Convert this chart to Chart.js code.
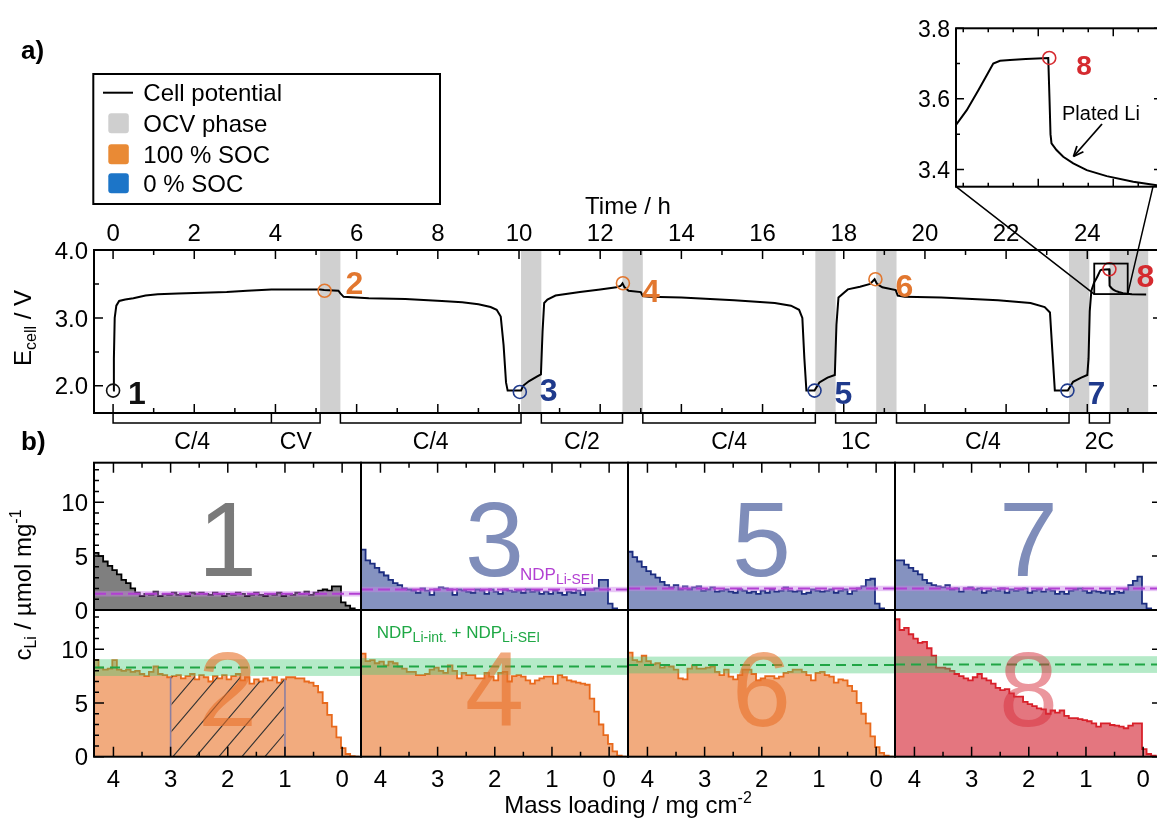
<!DOCTYPE html>
<html>
<head>
<meta charset="utf-8">
<script src="https://cdn.jsdelivr.net/npm/chart.js@4.4.1/dist/chart.umd.min.js"></script>
<style>
  html, body { margin: 0; padding: 0; background: #fff; overflow: hidden; width: 1157px; height: 819px; }
  canvas { position: absolute; left: 0; top: 0; }
</style>
</head>
<body>
<script>
// ---------- Cell potential during the cycling protocol ----------
const timeH = [0.00, 0.02, 0.04, 0.08, 0.15, 0.30, 0.50, 0.80, 1.10, 1.60, 2.20, 2.80, 3.30, 3.90, 4.50, 5.10, 5.20, 5.55, 5.60, 5.68,
  6.30, 7.20, 8.10, 8.60, 9.00, 9.30, 9.45, 9.55, 9.62, 9.68, 9.72, 10.05, 10.10, 10.25, 10.45, 10.54, 10.58, 10.62, 10.70, 10.90,
  11.50, 12.00, 12.40, 12.50, 12.55, 12.60, 12.70, 13.00, 13.05, 13.20, 14.00, 15.30, 16.30, 16.70, 16.90, 16.98, 17.03, 17.08, 17.28, 17.40,
  17.60, 17.78, 17.82, 17.87, 18.10, 18.40, 18.65, 18.76, 18.82, 18.95, 19.28, 19.33, 19.50, 20.40, 21.80, 22.60, 22.95, 23.08, 23.14, 23.20,
  23.52, 23.65, 23.85, 24.00, 24.03, 24.06, 24.10, 24.171, 24.214, 24.261, 24.294, 24.320, 24.347, 24.387, 24.450, 24.540, 24.545, 24.549, 24.553, 24.573,
  24.600, 24.640, 24.694, 24.774, 24.880, 24.974, 25.10, 25.45];
const ecellV = [1.93, 2.40, 3.00, 3.18, 3.25, 3.27, 3.29, 3.33, 3.35, 3.36, 3.37, 3.38, 3.40, 3.42, 3.42, 3.42, 3.41, 3.40, 3.36, 3.31,
  3.29, 3.28, 3.25, 3.23, 3.20, 3.16, 3.12, 3.02, 2.60, 2.05, 1.93, 1.93, 2.00, 2.07, 2.14, 2.17, 2.80, 3.22, 3.27, 3.33,
  3.38, 3.42, 3.45, 3.47, 3.51, 3.45, 3.40, 3.38, 3.32, 3.31, 3.30, 3.26, 3.22, 3.18, 3.12, 3.00, 2.40, 1.93, 1.93, 2.05,
  2.12, 2.16, 2.90, 3.30, 3.42, 3.46, 3.50, 3.57, 3.50, 3.45, 3.41, 3.33, 3.31, 3.30, 3.26, 3.22, 3.16, 3.08, 2.50, 1.93,
  1.93, 2.06, 2.12, 2.16, 2.40, 3.10, 3.40, 3.526, 3.568, 3.625, 3.667, 3.700, 3.708, 3.710, 3.713, 3.716, 3.600, 3.500, 3.474, 3.455,
  3.436, 3.417, 3.398, 3.381, 3.365, 3.355, 3.350, 3.346];

// OCV rest phases [start, end] in h
const ocvStart = [5.10, 10.05, 12.55, 17.30, 18.80, 23.55, 24.55];
const ocvEnd   = [5.60, 10.55, 13.05, 17.80, 19.30, 24.05, 25.50];

// sampling points 1..8
const sampleIds   = ['1', '2', '3', '4', '5', '6', '7', '8'];
const sampleTimeH = [0.00, 5.21, 10.02, 12.56, 17.28, 18.78, 23.51, 24.544];
const sampleV     = [1.93, 3.40, 1.91, 3.51, 1.93, 3.57, 1.93, 3.716];

// protocol steps shown under the time axis
const stepLabels = ['C/4', 'CV', 'C/4', 'C/2', 'C/4', '1C', 'C/4', '2C'];
const stepStart  = [0.00, 3.90, 5.60, 10.55, 13.05, 17.80, 19.30, 24.05];
const stepEnd    = [3.90, 5.10, 10.05, 12.55, 17.30, 18.80, 23.55, 24.55];

// axis ticks
const timeMajor = [0, 2, 4, 6, 8, 10, 12, 14, 16, 18, 20, 22, 24];
const timeMinor = [1, 3, 5, 7, 9, 11, 13, 15, 17, 19, 21, 23, 25];
const voltMajor = [2.0, 3.0, 4.0];
const voltMinor = [2.5, 3.5];
const insetTimeMajor = [24.5, 24.8];
const insetTimeMinor = [24.2, 24.3, 24.4, 24.6, 24.7, 24.9];
const insetVMajor = [3.4, 3.6, 3.8];
const insetVMinor = [3.5, 3.7];
const loadTicks = [4, 3, 2, 1, 0];
const loadMinor = [3.5, 2.5, 1.5, 0.5];
const cMajor = [0, 5, 10];
const cMinor = [1, 2, 3, 4, 6, 7, 8, 9, 11, 12, 13];

// ---------- Li depth profiles (NDP), bins along mass loading ----------
const binStart = 4.34;   // mg cm-2, first bin edge
const binWidth = 0.08;   // mg cm-2
const hist1 = [5.3, 5.0, 4.5, 4.1, 3.7, 3.3, 2.8, 2.5, 2.0, 1.6,
  1.3, 1.5, 1.4, 1.7, 1.3, 1.5, 1.4, 1.6, 1.4, 1.5,
  1.3, 1.6, 1.5, 1.6, 1.5, 1.4, 1.6, 1.5, 1.3, 1.5,
  1.4, 1.6, 1.5, 1.3, 1.4, 1.6, 1.4, 1.3, 1.5, 1.4,
  1.6, 1.3, 1.5, 1.4, 1.6, 1.5, 1.7, 1.4, 1.6, 1.8,
  1.9, 1.8, 2.2, 2.2, 0.7, 0.4, 0.15, 0];
const hist2 = [9.0, 8.3, 8.1, 8.2, 9.0, 8.1, 8.0, 8.1, 7.9, 8.0,
  7.7, 7.5, 7.9, 8.4, 7.7, 7.6, 7.4, 7.5, 7.6, 7.3,
  7.5, 7.7, 7.2, 7.6, 7.4, 7.0, 7.5, 7.3, 7.6, 7.2,
  7.5, 7.7, 7.1, 7.4, 6.8, 7.2, 7.0, 7.3, 7.1, 7.4,
  6.9, 7.2, 7.4, 7.4, 7.3, 7.3, 7.0, 6.9, 6.6, 6.0,
  5.0, 3.9, 2.8, 1.8, 0.8, 0.25, 0.05, 0];
const hist3 = [5.6, 4.6, 4.3, 3.9, 3.5, 3.2, 2.8, 2.5, 2.3, 2.0,
  1.9, 1.8, 1.6, 2.0, 1.8, 1.4, 1.9, 2.1, 2.0, 1.9,
  1.4, 1.9, 1.8, 1.7, 1.6, 1.9, 1.8, 1.5, 1.9, 1.7,
  1.5, 1.9, 1.8, 1.7, 1.8, 1.6, 1.9, 1.7, 1.8, 1.5,
  1.7, 1.5, 1.8, 1.6, 1.4, 1.7, 1.6, 1.8, 1.4, 1.9,
  1.9, 2.0, 2.8, 2.8, 0.6, 0.15, 0, 0];
const hist4 = [9.6, 8.9, 9.0, 8.7, 8.85, 8.5, 8.85, 8.7, 8.4, 8.2,
  7.9, 7.9, 7.6, 7.6, 7.7, 8.1, 8.3, 8.0, 7.8, 8.5,
  8.0, 7.3, 7.8, 7.6, 7.6, 7.3, 7.3, 7.8, 7.45, 7.1,
  7.8, 7.9, 7.0, 7.5, 7.6, 7.45, 7.1, 6.8, 7.1, 7.3,
  7.45, 7.45, 6.8, 7.6, 7.4, 7.1, 7.0, 6.9, 6.8, 6.7,
  5.4, 4.2, 3.0, 2.0, 1.2, 0.5, 0.1, 0];
const hist5 = [5.4, 4.9, 4.5, 4.0, 3.6, 3.3, 3.0, 2.6, 2.3, 2.1,
  2.3, 1.9, 2.2, 1.9, 2.1, 2.2, 1.8, 1.9, 2.1, 1.7,
  1.8, 1.9, 1.7, 1.6, 1.9, 1.8, 1.6, 1.7, 1.5, 1.8,
  1.6, 1.9, 1.7, 1.8, 2.1, 1.8, 1.7, 1.8, 1.5, 1.6,
  1.9, 1.8, 1.7, 1.8, 1.9, 1.6, 1.8, 1.9, 1.5, 1.8,
  2.0, 2.2, 2.8, 2.9, 0.6, 0.15, 0, 0];
const hist6 = [9.7, 9.0, 8.85, 9.4, 8.9, 8.6, 8.7, 8.3, 8.5, 8.4,
  8.1, 7.3, 7.2, 8.2, 8.5, 8.2, 8.2, 8.3, 8.4, 7.9,
  7.6, 8.1, 7.45, 7.2, 7.6, 8.1, 8.1, 7.7, 7.1, 7.3,
  7.5, 7.5, 7.3, 7.45, 7.8, 7.9, 8.1, 8.1, 7.9, 7.6,
  7.1, 7.8, 7.9, 7.6, 7.45, 6.9, 7.2, 7.1, 6.6, 6.1,
  5.0, 4.0, 3.1, 1.9, 0.9, 0.35, 0.1, 0];
const hist7 = [4.6, 4.6, 4.2, 3.9, 3.6, 3.3, 2.8, 2.5, 2.3, 2.2,
  2.1, 2.3, 1.9, 2.0, 1.7, 2.0, 2.1, 1.9, 2.0, 1.6,
  1.8, 1.9, 1.8, 2.0, 1.6, 1.9, 1.8, 1.9, 2.0, 1.6,
  1.8, 1.9, 1.7, 1.9, 1.8, 1.5, 1.7, 1.5, 1.8, 1.9,
  2.0, 1.8, 1.6, 1.8, 1.7, 1.6, 1.8, 1.5, 1.7, 1.6,
  1.9, 2.3, 2.7, 3.1, 0.6, 0.15, 0, 0];
const hist8 = [12.8, 11.8, 12.0, 11.4, 11.0, 10.6, 10.7, 10.1, 9.4, 8.3,
  8.3, 8.2, 8.0, 7.7, 7.5, 7.3, 7.1, 7.4, 7.7, 7.3,
  7.1, 6.8, 6.4, 6.2, 6.3, 5.9, 5.6, 5.6, 5.1, 4.9,
  4.7, 4.5, 4.4, 4.0, 4.3, 4.1, 4.3, 3.8, 3.6, 3.6,
  3.5, 3.4, 3.3, 3.1, 2.8, 3.1, 3.1, 2.95, 2.9, 2.8,
  2.65, 2.9, 3.1, 3.1, 0.7, 0.25, 0.1, 0];

// reference levels: Li in SEI (0 % SOC panels) and Li intercalated + SEI (100 % SOC panels)
const ndpSei = [1.5, 1.9, 2.0, 2.0];
const ndpSeiSpread = 0.25;
const ndpTotal = [8.3, 8.4, 8.54, 8.58];
const ndpTotalSpread = 0.78;
// region marked with hatching in profile 2
const hatchFrom = 3.0, hatchTo = 1.0;

// ---------- drawing ----------
const FONT = "'Liberation Sans', Arial, Helvetica, sans-serif";
const f = (size, weight) => (weight ? weight + ' ' : '') + size + 'px ' + FONT;
const CW = 1170, CH = 819;

function makeCanvas() {
  const c = document.createElement('canvas');
  c.width = CW; c.height = CH;
  c.style.width = CW + 'px'; c.style.height = CH + 'px';
  document.body.appendChild(c);
  return c;
}

function baseOptions(box, xs, ys) {
  return {
    responsive: false, devicePixelRatio: 1, animation: false, events: [],
    layout: { autoPadding: false, padding: { left: box.l, top: box.t, right: CW - box.r, bottom: CH - box.b } },
    scales: {
      x: Object.assign({ type: 'linear', display: false }, xs),
      y: Object.assign({ type: 'linear', display: false }, ys)
    },
    plugins: { legend: { display: false }, tooltip: { enabled: false }, title: { display: false } }
  };
}

function rich(ctx, x, y, parts, align, color) {
  let w = 0;
  for (const p of parts) { ctx.font = p.f; w += ctx.measureText(p.t).width; }
  let cx = align === 'center' ? x - w / 2 : (align === 'right' ? x - w : x);
  ctx.textAlign = 'left'; ctx.textBaseline = 'alphabetic'; ctx.fillStyle = color || '#000';
  for (const p of parts) { ctx.font = p.f; ctx.fillText(p.t, cx, y + (p.dy || 0)); cx += ctx.measureText(p.t).width; }
}

function ticksH(ctx, scale, values, yEdge, len, dir) {
  for (const v of values) {
    const px = scale.getPixelForValue(v);
    ctx.moveTo(px, yEdge); ctx.lineTo(px, yEdge + dir * len);
  }
}
function ticksV(ctx, scale, values, xEdge, len, dir) {
  for (const v of values) {
    const py = scale.getPixelForValue(v);
    ctx.moveTo(xEdge, py); ctx.lineTo(xEdge + dir * len, py);
  }
}

const sampleColors = ['#111111', '#e2772f', '#1f3a8c', '#e2772f', '#1f3a8c', '#e2772f', '#1f3a8c', '#d52a2f'];
const sampleLabelOffset = [[15, 2], [21, -8], [20, -2], [19, 7], [20, 2], [20, 6], [20, 2], [27, 6]];

const boxA = { l: 94, r: 1162, t: 250, b: 413 };
const boxInset = { l: 956, r: 1162, t: 28.3, b: 186.7 };
const insetX = { min: 24.171, max: 24.995 };
const insetY = { min: 3.351, max: 3.8 };

const curvePoints = timeH.map((t, i) => ({ x: t, y: ecellV[i] }));

const panelAPlugin = {
  id: 'panelA',
  beforeDatasetsDraw(chart) {
    const { ctx, chartArea: a, scales: { x } } = chart;
    ctx.save();
    ctx.fillStyle = '#d0d0d0';
    ocvStart.forEach((s, i) => {
      const x0 = x.getPixelForValue(s), x1 = x.getPixelForValue(ocvEnd[i]);
      ctx.fillRect(x0, a.top, x1 - x0, a.bottom - a.top);
    });
    ctx.restore();
  },
  afterDatasetsDraw(chart) {
    const { ctx, scales: { x, y } } = chart;
    ctx.save();
    ctx.font = f(32, 'bold');
    ctx.textAlign = 'left'; ctx.textBaseline = 'alphabetic';
    sampleIds.forEach((id, i) => {
      const px = x.getPixelForValue(sampleTimeH[i]), py = y.getPixelForValue(sampleV[i]);
      ctx.fillStyle = sampleColors[i];
      ctx.fillText(id, px + sampleLabelOffset[i][0], py + sampleLabelOffset[i][1] + 11.5);
    });
    ctx.restore();
  },
  afterDraw(chart) {
    const { ctx, chartArea: a, scales: { x, y } } = chart;
    ctx.save();
    // zoom box and connectors to the inset
    const bx0 = x.getPixelForValue(insetX.min), bx1 = x.getPixelForValue(insetX.max);
    const by0 = y.getPixelForValue(insetY.max), by1 = y.getPixelForValue(insetY.min);
    ctx.strokeStyle = '#000'; ctx.lineWidth = 1.8;
    ctx.strokeRect(bx0, by0, bx1 - bx0, by1 - by0);
    ctx.lineWidth = 1.5;
    ctx.beginPath();
    ctx.moveTo(boxInset.l, boxInset.b); ctx.lineTo(bx0, by1);
    ctx.moveTo(boxInset.r - 9, boxInset.b); ctx.lineTo(bx1, by1);
    ctx.stroke();

    // frame
    ctx.lineWidth = 2;
    ctx.strokeRect(a.left, a.top, a.right - a.left, a.bottom - a.top);
    // ticks
    ctx.lineWidth = 1.5;
    ctx.beginPath();
    ticksH(ctx, x, timeMajor, a.top, 9, 1); ticksH(ctx, x, timeMinor, a.top, 5, 1);
    ticksH(ctx, x, timeMajor, a.bottom, 9, -1); ticksH(ctx, x, timeMinor, a.bottom, 5, -1);
    ticksV(ctx, y, voltMajor, a.left, 9, 1); ticksV(ctx, y, voltMinor, a.left, 5, 1);
    ticksV(ctx, y, voltMajor, a.right, 9, -1); ticksV(ctx, y, voltMinor, a.right, 5, -1);
    ctx.stroke();

    // tick labels
    ctx.fillStyle = '#000';
    ctx.font = f(24); ctx.textBaseline = 'alphabetic';
    ctx.textAlign = 'center';
    timeMajor.forEach(t => ctx.fillText(String(t), x.getPixelForValue(t), 240.6));
    ctx.textAlign = 'right';
    voltMajor.forEach(v => ctx.fillText(v.toFixed(1), 88, y.getPixelForValue(v) + 8.6));
    rich(ctx, 628, 213.5, [{ t: 'Time / h', f: f(24) }], 'center');
    // y title
    ctx.save();
    ctx.translate(31, 328); ctx.rotate(-Math.PI / 2);
    rich(ctx, 0, 0, [{ t: 'E', f: f(24) }, { t: 'cell', f: f(16), dy: 5 }, { t: ' / V', f: f(24) }], 'center');
    ctx.restore();

    // protocol brackets
    ctx.lineWidth = 1.5; ctx.strokeStyle = '#000';
    ctx.beginPath();
    stepStart.forEach((s, i) => {
      const x0 = x.getPixelForValue(s), x1 = x.getPixelForValue(stepEnd[i]);
      ctx.moveTo(x0, 414); ctx.lineTo(x0, 423); ctx.lineTo(x1, 423); ctx.lineTo(x1, 414);
    });
    ctx.stroke();
    ctx.font = f(23); ctx.textAlign = 'center'; ctx.fillStyle = '#000';
    stepLabels.forEach((lab, i) => {
      const xc = x.getPixelForValue((stepStart[i] + stepEnd[i]) / 2);
      ctx.fillText(lab, xc, 448.5);
    });

    // panel letters
    ctx.font = f(26, 'bold'); ctx.textAlign = 'left';
    ctx.fillText('a)', 21, 59);
    ctx.fillText('b)', 21, 450);

    // legend
    ctx.lineWidth = 2;
    ctx.strokeRect(93.3, 74, 346.7, 130);
    ctx.beginPath(); ctx.moveTo(103, 92.7); ctx.lineTo(133, 92.7); ctx.stroke();
    const sw = [['#cfcfcf', 123.3], ['#e98a35', 154.3], ['#1c75c8', 183.3]];
    sw.forEach(([c, yc]) => {
      ctx.fillStyle = c;
      ctx.beginPath();
      if (ctx.roundRect) ctx.roundRect(108.3, yc - 10, 20.5, 20, 3); else ctx.rect(108.3, yc - 10, 20.5, 20);
      ctx.fill();
    });
    ctx.fillStyle = '#000'; ctx.font = f(24); ctx.textAlign = 'left';
    [['Cell potential', 92.7], ['OCV phase', 123.3], ['100 % SOC', 154.3], ['0 % SOC', 183.3]].forEach(([t, yc]) => {
      ctx.fillText(t, 143.3, yc + 8.6);
    });
    ctx.restore();
  }
};

new Chart(makeCanvas(), {
  type: 'line',
  data: {
    datasets: [
      { data: sampleTimeH.map((t, i) => ({ x: t, y: sampleV[i] })), showLine: false, pointRadius: 6.5, pointBorderWidth: 1.6,
        pointBorderColor: sampleColors, pointBackgroundColor: 'rgba(0,0,0,0)', clip: false },
      { data: curvePoints, borderColor: '#000', borderWidth: 2, pointRadius: 0, tension: 0, fill: false }
    ]
  },
  options: baseOptions(boxA, { min: -0.47, max: 25.84 }, { min: 1.6, max: 4.0 }),
  plugins: [panelAPlugin]
});

// ---------- inset ----------
const insetPlugin = {
  id: 'inset',
  afterDraw(chart) {
    const { ctx, chartArea: a, scales: { x, y } } = chart;
    ctx.save();
    ctx.strokeStyle = '#000'; ctx.lineWidth = 2;
    ctx.strokeRect(a.left, a.top, a.right - a.left, a.bottom - a.top);
    ctx.lineWidth = 1.5;
    ctx.beginPath();
    ticksH(ctx, x, insetTimeMajor, a.top, 8, 1); ticksH(ctx, x, insetTimeMinor, a.top, 4, 1);
    ticksH(ctx, x, insetTimeMajor, a.bottom, 8, -1); ticksH(ctx, x, insetTimeMinor, a.bottom, 4, -1);
    ticksV(ctx, y, insetVMajor, a.left, 8, 1); ticksV(ctx, y, insetVMinor, a.left, 4, 1);
    ticksV(ctx, y, insetVMajor, a.right, 8, -1); ticksV(ctx, y, insetVMinor, a.right, 4, -1);
    ctx.stroke();
    ctx.fillStyle = '#000'; ctx.font = f(23); ctx.textAlign = 'right';
    insetVMajor.forEach(v => ctx.fillText(v.toFixed(1), 950, y.getPixelForValue(v) + 8.3));
    // sample 8 label
    const px = x.getPixelForValue(sampleTimeH[7]), py = y.getPixelForValue(sampleV[7]);
    ctx.font = f(28, 'bold'); ctx.textAlign = 'left'; ctx.fillStyle = sampleColors[7];
    ctx.fillText('8', px + 27, py + 7 + 10);
    // plated Li annotation
    ctx.fillStyle = '#000'; ctx.font = f(20);
    ctx.fillText('Plated Li', 1062, 120);
    const ax0 = 1102, ay0 = 124, ax1 = 1073.5, ay1 = 156.5;
    ctx.lineWidth = 1.8;
    ctx.beginPath(); ctx.moveTo(ax0, ay0); ctx.lineTo(ax1, ay1); ctx.stroke();
    const ang = Math.atan2(ay1 - ay0, ax1 - ax0);
    ctx.beginPath();
    ctx.moveTo(ax1, ay1);
    ctx.lineTo(ax1 - 11 * Math.cos(ang - 0.4), ay1 - 11 * Math.sin(ang - 0.4));
    ctx.moveTo(ax1, ay1);
    ctx.lineTo(ax1 - 11 * Math.cos(ang + 0.4), ay1 - 11 * Math.sin(ang + 0.4));
    ctx.stroke();
    ctx.restore();
  }
};

new Chart(makeCanvas(), {
  type: 'line',
  data: {
    datasets: [
      { data: [{ x: sampleTimeH[7], y: sampleV[7] }], showLine: false, pointRadius: 6.5, pointBorderWidth: 1.6,
        pointBorderColor: sampleColors[7], pointBackgroundColor: 'rgba(0,0,0,0)', clip: false },
      { data: curvePoints, borderColor: '#000', borderWidth: 2, pointRadius: 0, tension: 0, fill: false }
    ]
  },
  options: baseOptions(boxInset, insetX, insetY),
  plugins: [insetPlugin]
});

// ---------- depth profiles ----------
const colEdges = [94, 361, 628, 895, 1162];
const rowEdges = [462.7, 610, 756.7];
const loadRange = { min: -0.33, max: 4.34, reverse: true };
const cRange = { min: 0, max: 13.66 };

function histPoints(values) {
  const pts = values.map((v, i) => ({ x: binStart - binWidth * i, y: v }));
  pts.push({ x: binStart - binWidth * values.length, y: values[values.length - 1] });
  return pts;
}

function drawHatch(chart, values) {
  const { ctx, chartArea: a, scales: { x, y } } = chart;
  const y0 = y.getPixelForValue(0);
  const x0 = x.getPixelForValue(hatchFrom), x1 = x.getPixelForValue(hatchTo);
  ctx.save();
  // region below the profile
  ctx.beginPath();
  ctx.moveTo(x.getPixelForValue(binStart), y0);
  values.forEach((v, i) => {
    ctx.lineTo(x.getPixelForValue(binStart - binWidth * i), y.getPixelForValue(v));
    ctx.lineTo(x.getPixelForValue(binStart - binWidth * (i + 1)), y.getPixelForValue(v));
  });
  ctx.lineTo(x.getPixelForValue(binStart - binWidth * values.length), y0);
  ctx.closePath();
  ctx.clip();
  ctx.strokeStyle = '#8c7fa0'; ctx.lineWidth = 1.6;
  ctx.beginPath();
  ctx.moveTo(x0, y0); ctx.lineTo(x0, a.top);
  ctx.moveTo(x1, y0); ctx.lineTo(x1, a.top);
  ctx.stroke();
  ctx.beginPath(); ctx.rect(x0 + 1, a.top, x1 - x0 - 2, y0 - a.top); ctx.clip();
  ctx.strokeStyle = '#333'; ctx.lineWidth = 1.1;
  ctx.beginPath();
  const hgt = y0 - a.top, run = hgt * 0.85;
  for (let bx = x0 - run; bx < x1 + 5; bx += 23) {
    ctx.moveTo(bx + 12, y0); ctx.lineTo(bx + 12 + run, a.top);
  }
  ctx.stroke();
  ctx.restore();
}

function makeHist(p) {
  const box = { l: colEdges[p.col], r: colEdges[p.col + 1], t: rowEdges[p.row], b: rowEdges[p.row + 1] };
  const plugin = {
    id: 'profile' + p.digit,
    afterDatasetsDraw(chart) {
      const { ctx, chartArea: a, scales: { x, y } } = chart;
      if (p.hatch) drawHatch(chart, p.values);
      ctx.save();
      ctx.beginPath(); ctx.rect(a.left, a.top, a.right - a.left, a.bottom - a.top); ctx.clip();
      const yc = y.getPixelForValue(p.level);
      const yh = y.getPixelForValue(p.level + p.spread), yl = y.getPixelForValue(p.level - p.spread);
      ctx.fillStyle = p.bandColor;
      ctx.fillRect(a.left, yh, a.right - a.left, yl - yh);
      ctx.setLineDash(p.dash); ctx.strokeStyle = p.lineColor; ctx.lineWidth = 2;
      ctx.beginPath(); ctx.moveTo(a.left, yc); ctx.lineTo(a.right, yc); ctx.stroke();
      ctx.setLineDash([]);
      ctx.font = f(106); ctx.textAlign = 'center'; ctx.textBaseline = 'alphabetic';
      ctx.fillStyle = p.digitColor;
      ctx.fillText(p.digit, (a.left + a.right) / 2, p.row === 0 ? 576 : 725.5);
      ctx.restore();
    },
    afterDraw(chart) {
      const { ctx, chartArea: a, scales: { x, y } } = chart;
      ctx.save();
      ctx.strokeStyle = '#000'; ctx.lineWidth = 2;
      ctx.strokeRect(a.left, a.top, a.right - a.left, a.bottom - a.top);
      ctx.lineWidth = 1.5;
      ctx.beginPath();
      if (p.row === 0) { ticksH(ctx, x, loadTicks, a.top, 10, 1); ticksH(ctx, x, loadMinor, a.top, 5, 1); }
      if (p.row === 1) { ticksH(ctx, x, loadTicks, a.bottom, 10, -1); ticksH(ctx, x, loadMinor, a.bottom, 5, -1); }
      if (p.col === 0) { ticksV(ctx, y, cMajor, a.left, 10, 1); ticksV(ctx, y, cMinor, a.left, 5, 1); }
      if (p.col === 3) { ticksV(ctx, y, cMajor, a.right, 10, -1); ticksV(ctx, y, cMinor, a.right, 5, -1); }
      ctx.stroke();
      ctx.fillStyle = '#000'; ctx.font = f(24); ctx.textBaseline = 'alphabetic';
      if (p.col === 0) {
        ctx.textAlign = 'right';
        cMajor.forEach(v => ctx.fillText(String(v), 88, y.getPixelForValue(v) + 8.6));
      }
      if (p.row === 1) {
        ctx.textAlign = 'center';
        loadTicks.forEach(v => ctx.fillText(String(v), x.getPixelForValue(v), 786.6));
      }
      if (p.note) p.note(ctx, a);
      ctx.restore();
    }
  };
  new Chart(makeCanvas(), {
    type: 'line',
    data: {
      datasets: [{ data: histPoints(p.values), stepped: true, borderColor: p.stroke, borderWidth: 1.8, pointRadius: 0,
        backgroundColor: p.fill, fill: 'origin', tension: 0, borderJoinStyle: 'miter' }]
    },
    options: baseOptions(box, loadRange, cRange),
    plugins: [plugin]
  });
}

const seiStyle = { bandColor: 'rgba(205,130,235,0.45)', lineColor: '#b23fd2', dash: [12, 5], spread: ndpSeiSpread };
const totStyle = { bandColor: 'rgba(60,200,110,0.38)', lineColor: '#20a545', dash: [10, 6], spread: ndpTotalSpread };
const blueFill = '#8592c0', blueLine = '#1c2d80', blueDigit = 'rgb(127,141,186)';
const orangeFill = '#f2ab7e', orangeLine = '#e8691c', orangeDigit = 'rgba(232,112,40,0.6)';

makeHist(Object.assign({ col: 0, row: 0, values: hist1, fill: '#7f7f7f', stroke: '#000', digit: '1', digitColor: 'rgb(122,122,122)', level: ndpSei[0] }, seiStyle, {
  note(ctx) {
    ctx.save();
    ctx.translate(31, 585); ctx.rotate(-Math.PI / 2);
    rich(ctx, 0, 0, [{ t: 'c', f: f(24) }, { t: 'Li', f: f(16), dy: 5 }, { t: ' / \u00b5mol mg', f: f(24) }, { t: '-1', f: f(16), dy: -10 }], 'center');
    ctx.restore();
  }
}));
makeHist(Object.assign({ col: 1, row: 0, values: hist3, fill: blueFill, stroke: blueLine, digit: '3', digitColor: blueDigit, level: ndpSei[1] }, seiStyle, {
  note(ctx) {
    rich(ctx, 520, 580, [{ t: 'NDP', f: f(17) }, { t: 'Li-SEI', f: f(14), dy: 3.5 }], 'left', '#b23fd2');
  }
}));
makeHist(Object.assign({ col: 2, row: 0, values: hist5, fill: blueFill, stroke: blueLine, digit: '5', digitColor: blueDigit, level: ndpSei[2] }, seiStyle));
makeHist(Object.assign({ col: 3, row: 0, values: hist7, fill: blueFill, stroke: blueLine, digit: '7', digitColor: blueDigit, level: ndpSei[3] }, seiStyle));
makeHist(Object.assign({ col: 0, row: 1, values: hist2, fill: orangeFill, stroke: orangeLine, digit: '2', digitColor: orangeDigit, level: ndpTotal[0], hatch: true }, totStyle));
makeHist(Object.assign({ col: 1, row: 1, values: hist4, fill: orangeFill, stroke: orangeLine, digit: '4', digitColor: orangeDigit, level: ndpTotal[1] }, totStyle, {
  note(ctx) {
    rich(ctx, 376.7, 638.3, [{ t: 'NDP', f: f(17) }, { t: 'Li-int.', f: f(14), dy: 3.5 }, { t: ' + NDP', f: f(17) }, { t: 'Li-SEI', f: f(14), dy: 3.5 }], 'left', '#1fa845');
    rich(ctx, 628, 813, [{ t: 'Mass loading / mg cm', f: f(24) }, { t: '-2', f: f(16), dy: -10 }], 'center');
  }
}));
makeHist(Object.assign({ col: 2, row: 1, values: hist6, fill: orangeFill, stroke: orangeLine, digit: '6', digitColor: orangeDigit, level: ndpTotal[2] }, totStyle));
makeHist(Object.assign({ col: 3, row: 1, values: hist8, fill: '#e4767f', stroke: '#d8202a', digit: '8', digitColor: 'rgba(215,45,60,0.5)', level: ndpTotal[3] }, totStyle));
</script>
</body>
</html>
